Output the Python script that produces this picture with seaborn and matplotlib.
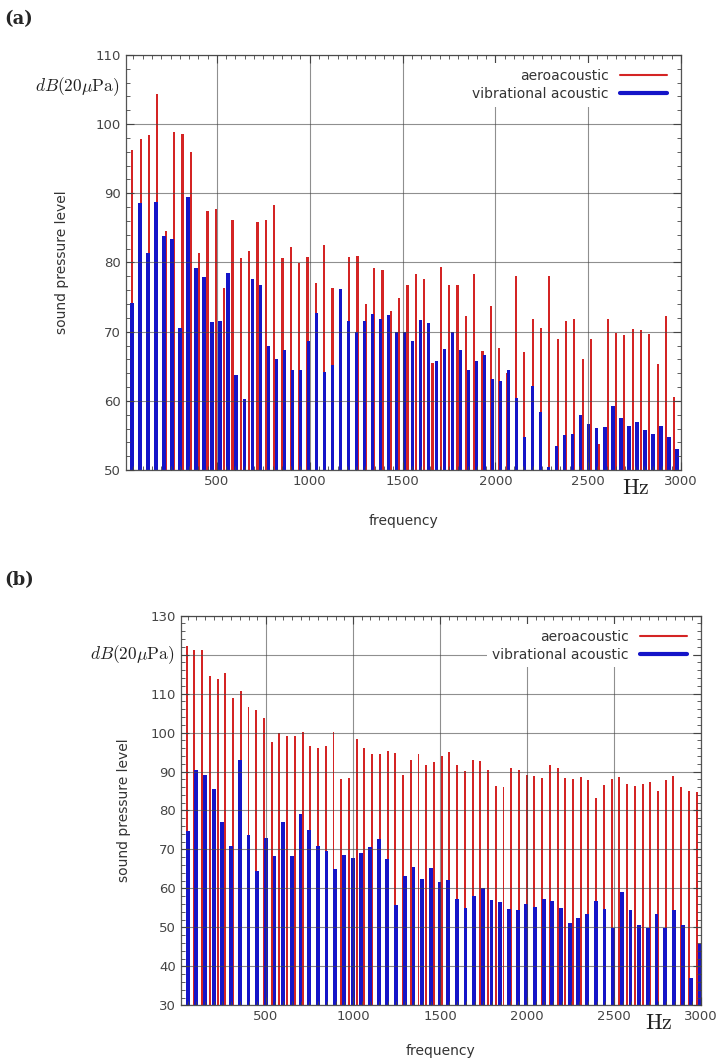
import numpy as np
import pandas as pd
import seaborn as sns
import matplotlib.pyplot as plt
from matplotlib.lines import Line2D
from matplotlib.ticker import MultipleLocator

# fundamental frequencies (Hz) read from the harmonic spacing
f0_aero_a = 44.9
f0_vib_a = 43.15
f0_aero_b = 44.4
f0_vib_b = 49.9

# panel (a) levels, dB
aero_a = [96.2, 97.9, 98.4, 104.4, 84.6, 98.8, 98.6, 96.0, 81.4, 87.5, 87.7, 76.3,
          86.2, 80.6, 81.6, 85.9, 86.1, 88.3, 80.6, 82.2, 79.9, 80.8, 77.1, 82.5,
          76.3, 75.8, 80.8, 80.9, 74.0, 79.2, 78.9, 73.0, 74.9, 76.8, 78.4, 77.6,
          65.4, 79.3, 76.8, 76.8, 72.3, 78.3, 67.2, 73.7, 67.6, 64.0, 78.0, 67.0,
          71.8, 70.6, 78.0, 68.9, 71.6, 71.8, 66.0, 68.9, 53.7, 71.8, 69.8, 69.5,
          70.4, 70.3, 69.7, 65.3, 72.2, 60.6]
vib_a = [74.1, 88.6, 81.3, 88.7, 83.9, 83.4, 70.6, 89.4, 79.2, 77.9, 71.4, 71.5,
         78.5, 63.8, 60.2, 77.6, 76.7, 67.9, 66.1, 67.3, 64.4, 64.4, 68.6, 72.7,
         64.2, 65.2, 76.2, 71.5, 70.0, 71.5, 72.5, 71.8, 72.4, 70.0, 70.0, 68.7,
         71.7, 71.2, 65.7, 67.5, 70.0, 67.3, 64.4, 65.8, 66.6, 63.1, 62.8, 64.5,
         60.4, 54.8, 62.1, 58.4, 50.5, 53.5, 55.1, 55.2, 58.0, 56.7, 56.1, 56.2,
         59.2, 57.5, 56.3, 57.0, 55.8, 55.2, 56.3, 54.8, 53.1]

# panel (b) levels, dB
aero_b = [122.2, 121.1, 121.2, 114.6, 113.7, 115.4, 109.0, 110.7, 106.6, 105.8,
          103.7, 97.6, 100.0, 99.2, 99.0, 100.1, 96.5, 96.0, 96.5, 100.1, 88.0,
          88.3, 98.3, 96.0, 94.6, 94.6, 95.2, 94.8, 89.2, 93.0, 94.5, 91.6, 92.4,
          94.0, 95.1, 91.8, 90.2, 92.9, 92.7, 90.5, 86.2, 86.1, 90.9, 90.4, 89.1,
          88.8, 88.3, 91.7, 90.9, 88.4, 88.0, 88.7, 87.9, 83.1, 86.6, 88.0, 88.6,
          86.9, 86.2, 86.8, 87.3, 85.0, 87.9, 88.9, 86.0, 85.1, 84.8]
vib_b = [74.8, 90.4, 89.1, 85.5, 77.1, 70.8, 93.0, 73.8, 64.4, 73.0, 68.4, 77.1,
         68.4, 79.1, 75.1, 71.0, 69.6, 65.1, 68.6, 67.7, 69.1, 70.6, 72.8, 67.5,
         55.7, 63.1, 65.6, 62.4, 65.3, 61.6, 62.2, 57.4, 54.9, 58.1, 60.2, 56.9,
         56.4, 54.7, 54.5, 56.1, 55.3, 57.4, 56.8, 54.9, 51.0, 52.5, 53.5, 56.8,
         54.6, 49.9, 59.2, 54.4, 50.7, 49.9, 53.5, 49.9, 54.5, 50.6, 37.1, 45.7]

RED = "#d42424"
BLUE = "#1414c8"


def harmonics(f0, levels):
    n = np.arange(1, len(levels) + 1)
    return pd.DataFrame({"freq": np.round(n * f0, 2), "level": levels})


def panel(ax, aero, vib, f0a, f0v, ylo, yhi, db_y, ypad, xpad, hide_tick=None):
    da = harmonics(f0a, aero)
    dv = harmonics(f0v, vib)
    sns.barplot(data=da, x="freq", y="level", native_scale=True, width=0.25,
                color=RED, saturation=1, linewidth=0, errorbar=None, ax=ax)
    sns.barplot(data=dv, x="freq", y="level", native_scale=True, width=0.44,
                color=BLUE, saturation=1, linewidth=0, errorbar=None, ax=ax)
    ax.set_xlim(10, 3000)
    ax.set_ylim(ylo, yhi)
    ax.xaxis.set_major_locator(MultipleLocator(500))
    ax.xaxis.set_minor_locator(MultipleLocator(50))
    ax.yaxis.set_major_locator(MultipleLocator(10))
    ax.yaxis.set_minor_locator(MultipleLocator(2))
    ax.tick_params(which="both", direction="in", top=True, right=True,
                   colors="#444444", labelsize=9.5)
    ax.tick_params(which="major", length=6, width=0.8)
    ax.tick_params(which="minor", length=3, width=0.6)
    ax.set_xticks(np.arange(500, 3001, 500))
    ax.set_xticklabels([str(v) for v in range(500, 3001, 500)])
    yt = np.arange(ylo, yhi + 1, 10)
    ax.set_yticks(yt)
    ax.set_yticklabels(["" if v == hide_tick else str(v) for v in yt])
    ax.grid(True, which="major", color="#444444", lw=0.8, alpha=0.6)
    ax.set_axisbelow(False)
    for s in ax.spines.values():
        s.set_color("#555555")
        s.set_linewidth(0.9)
    ax.set_xlabel("frequency", fontsize=10, color="#333333", labelpad=xpad)
    ax.set_ylabel("sound pressure level", fontsize=10, color="#333333", labelpad=ypad)
    ax.text(-0.012, db_y, r"$dB(20\mu\mathrm{Pa})$", transform=ax.get_yaxis_transform(),
            ha="right", va="center", fontsize=12.5, color="#222222")
    ax.annotate(r"$\mathrm{Hz}$", xy=(2755, 0), xycoords=ax.get_xaxis_transform(),
                xytext=(0, -13), textcoords="offset points", ha="center", va="center",
                fontsize=16, color="#222222")
    handles = [Line2D([], [], color=RED, lw=1.5), Line2D([], [], color=BLUE, lw=3)]
    leg = ax.legend(handles, ["aeroacoustic", "vibrational acoustic"], loc="upper right",
                    markerfirst=False, fontsize=10, handlelength=3.4, handletextpad=0.8,
                    labelspacing=0.3, borderaxespad=0.6, frameon=True, fancybox=False)
    leg.get_frame().set_edgecolor("none")
    leg.get_frame().set_facecolor("white")
    leg.get_frame().set_alpha(1)
    for t in leg.get_texts():
        t.set_color("#333333")


sns.set_style("ticks")
plt.rcParams["font.family"] = ["DejaVu Sans"]
plt.rcParams["mathtext.fontset"] = "cm"

fig = plt.figure(figsize=(7.19, 10.61), dpi=100)
ax_a = fig.add_axes([0.1752, 0.557, 0.772, 0.3912])
ax_b = fig.add_axes([0.2513, 0.0525, 0.7237, 0.3672])

panel(ax_a, aero_a, vib_a, f0_aero_a, f0_vib_a, 50, 110, 105.4, ypad=19, xpad=19)
panel(ax_b, aero_b, vib_b, f0_aero_b, f0_vib_b, 30, 130, 120, ypad=14, xpad=15,
      hide_tick=120)

fig.text(0.006, 0.982, "(a)", fontsize=13, fontweight="bold", family="serif", va="center")
fig.text(0.006, 0.453, "(b)", fontsize=13, fontweight="bold", family="serif", va="center")

fig.savefig("out.png", dpi=100)
